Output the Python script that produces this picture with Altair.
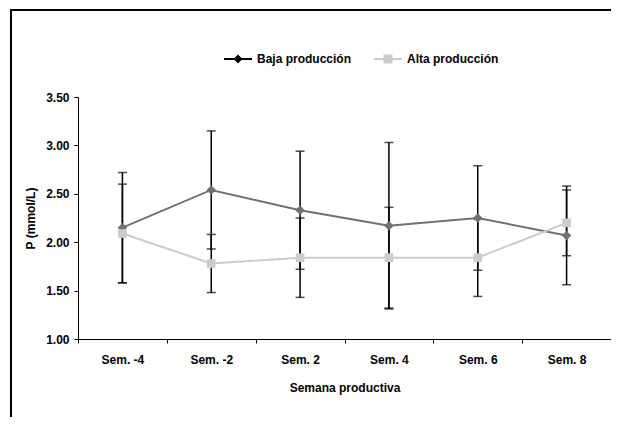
import altair as alt
import pandas as pd

semanas = ["Sem. -4", "Sem. -2", "Sem. 2", "Sem. 4", "Sem. 6", "Sem. 8"]
series = ["Baja producción", "Alta producción"]
baja_media = [2.15, 2.54, 2.33, 2.17, 2.25, 2.07]
baja_de = [0.57, 0.61, 0.61, 0.86, 0.54, 0.51]
alta_media = [2.09, 1.78, 1.84, 1.84, 1.84, 2.20]
alta_de = [0.51, 0.30, 0.41, 0.52, 0.40, 0.34]
y_ticks = [1.0, 1.5, 2.0, 2.5, 3.0, 3.5]

rows = []
for s, medias, des in [(series[0], baja_media, baja_de), (series[1], alta_media, alta_de)]:
    for sem, m, d in zip(semanas, medias, des):
        rows.append({"semana": sem, "serie": s, "media": m, "lo": m - d, "hi": m + d})
df = pd.DataFrame(rows)

FONT = "Liberation Sans"
LINE_COLORS = ["#717171", "#CCCCCC"]
W, H = 533, 242
PAD = {"left": 70, "top": 89, "right": 0, "bottom": 78}

x = alt.X(
    "semana:N", sort=semanas,
    scale=alt.Scale(type="band", paddingInner=0, paddingOuter=0),
    axis=alt.Axis(title="Semana productiva", labelAngle=0, tickBand="extent",
                  tickSize=4, labelPadding=11, titlePadding=17),
)
y_scale = alt.Scale(domain=[1, 3.5], nice=False, zero=False)
y_axis = alt.Axis(title="P (mmol/L)", values=y_ticks, format=".2f",
                  tickSize=4, labelPadding=5, titlePadding=8)

legend_col = alt.Scale(domain=series, range=["#000000", "#CCCCCC"])
legend_shape = alt.Scale(domain=series, range=[
    "M-1,-0.07L1,-0.07L1,0.07L-1,0.07ZM0,-0.32L0.32,0L0,0.32L-0.32,0Z",
    "M-1,-0.07L1,-0.07L1,0.07L-1,0.07ZM-0.32,-0.32L0.32,-0.32L0.32,0.32L-0.32,0.32Z",
])
leg = alt.Legend(title=None, orient="none", legendX=146, legendY=-52,
                 direction="horizontal")

base = alt.Chart(df)
one = pd.DataFrame({"k": [0]})

frame_top = alt.Chart(one).mark_rule(color="black", strokeWidth=2).encode(
    x=alt.value(-67), x2=alt.value(W), y=alt.value(-87), y2=alt.value(-87))
frame_left = alt.Chart(one).mark_rule(color="black", strokeWidth=2).encode(
    x=alt.value(-67), x2=alt.value(-67), y=alt.value(-88), y2=alt.value(H + PAD["bottom"]))

bars = base.mark_rule(color="black", strokeWidth=1.5).encode(
    x=x, y=alt.Y("lo:Q", scale=y_scale, axis=y_axis), y2="hi:Q")
caps_lo = base.mark_tick(color="black", size=9, thickness=1.5).encode(x=x, y="lo:Q")
caps_hi = base.mark_tick(color="black", size=9, thickness=1.5).encode(x=x, y="hi:Q")

layers = [frame_top, frame_left, bars, caps_lo, caps_hi]
for s, col in zip(series, LINE_COLORS):
    sub = base.transform_filter(alt.datum.serie == s)
    layers.append(sub.mark_line(strokeWidth=2, color=col).encode(x=x, y="media:Q"))
for s, col, shp, sz in zip(series, LINE_COLORS, ["diamond", "square"], [90, 75]):
    sub = base.transform_filter(alt.datum.serie == s)
    layers.append(sub.mark_point(filled=True, opacity=1, shape=shp, size=sz, color=col)
                  .encode(x=x, y="media:Q"))

legend_layer = base.mark_point(filled=True, opacity=0).encode(
    x=x, y="media:Q",
    color=alt.Color("serie:N", scale=legend_col, legend=leg),
    shape=alt.Shape("serie:N", scale=legend_shape, legend=leg),
)
layers.append(legend_layer)

chart = alt.layer(*layers).properties(
    width=W, height=H, padding=PAD, autosize="none",
).configure_view(stroke=None).configure_axis(
    labelFont=FONT, labelFontSize=12, labelFontWeight="bold", labelColor="black",
    titleFont=FONT, titleFontSize=12, titleFontWeight="bold", titleColor="black",
    domainColor="black", tickColor="black", domainWidth=1, tickWidth=1, grid=False,
).configure_legend(
    labelFont=FONT, labelFontSize=12, labelFontWeight="bold", labelColor="black",
    symbolSize=784, symbolStrokeWidth=0, symbolOpacity=1, labelOffset=5,
    columnPadding=22, padding=0,
)

chart.save("out.html", embed_options={"renderer": "svg", "actions": False})
